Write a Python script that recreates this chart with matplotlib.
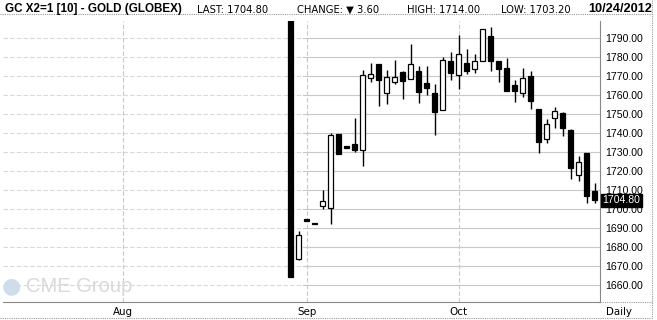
import matplotlib
matplotlib.use("Agg")
import matplotlib.pyplot as plt
from matplotlib.lines import Line2D

# trading-day index, 0 = Aug 1 2012
day_idx = list(range(21, 60))
opens = [1830, 1674, 1695, 1693, 1701.6, 1700.8, 1739.6, 1733.5, 1734.2, 1731,
         1768.9, 1776.3, 1761, 1767.2, 1772.1, 1768.7, 1772.6, 1766.5, 1761.2, 1752.1,
         1777.9, 1770.5, 1776.8, 1773.7, 1777.9, 1791.2, 1777.9, 1774.2, 1765.3, 1761,
         1770.2, 1752.8, 1736.8, 1748.2, 1750.5, 1741.7, 1717.9, 1729.6, 1709.5]
highs = [1830, 1688.6, 1695, 1693, 1710.2, 1740, 1739.6, 1733.5, 1748, 1773.3,
         1777, 1776.3, 1773.3, 1778.6, 1772.8, 1787, 1775.4, 1775.4, 1766, 1780,
         1782.8, 1791.7, 1784.4, 1781.7, 1794.7, 1796.1, 1777.9, 1779.6, 1768.2, 1774.2,
         1772.9, 1752.8, 1747.5, 1753.8, 1751.2, 1742.3, 1728, 1729.6, 1714]
lows = [1664.5, 1673.5, 1694, 1692, 1700.4, 1692.4, 1729.3, 1732.5, 1730.2, 1723,
        1767.2, 1754.5, 1755.6, 1765.8, 1758.2, 1768.7, 1756, 1760.3, 1739.3, 1752.1,
        1768.2, 1763.5, 1771.2, 1771.9, 1777.9, 1772.9, 1767.2, 1762.4, 1756.6, 1759,
        1752.6, 1729.5, 1735, 1742.9, 1738.6, 1716.1, 1715.1, 1703.3, 1703.2]
closes = [1664.5, 1686.3, 1694, 1692, 1704.2, 1738.9, 1729.3, 1732.5, 1731.4, 1770.5,
          1771, 1768.2, 1769.5, 1769.8, 1767.7, 1776.3, 1761.9, 1764, 1751.4, 1778.4,
          1771.6, 1781.7, 1772.9, 1777.9, 1794.7, 1778.2, 1773.7, 1762.4, 1762.4, 1768.9,
          1757.2, 1735.6, 1744.7, 1751.7, 1742.6, 1721.9, 1724.9, 1707.2, 1704.8]

month_pos = [0, 23, 42]
month_labels = ["Aug", "Sep", "Oct"]
price_ticks = list(range(1660, 1800, 10))
last_price = 1704.80

W, H = 657, 320
fig = plt.figure(figsize=(W / 100, H / 100), dpi=100)
fig.patch.set_facecolor("white")

def fx(px):
    return px / W

def fy(py):
    return 1 - py / H

ax = fig.add_axes([fx(3), fy(302), fx(600) - fx(3), fy(21) - fy(302)])
ax.set_xlim(-15, 59.66)
ax.set_ylim(1651.2, 1799.1)

# horizontal grid: dashed before the contract starts, solid after
for p in price_ticks:
    ax.plot([-15, 22.5], [p, p], color="#d3dbd3", lw=0.8, ls=(0, (4, 2)), zorder=0)
    ax.plot([22.5, 59.66], [p, p], color="#c8c8c8", lw=0.8, zorder=0)
for m in month_pos:
    ax.axvline(m, color="#c8c8c8", lw=0.8, ls=(0, (4, 2)), zorder=0)

# candles
ax.vlines(day_idx, lows, highs, color="black", lw=1.0, zorder=2)
bottoms = [min(o, c) for o, c in zip(opens, closes)]
heights = [abs(c - o) for o, c in zip(opens, closes)]
colors = ["white" if c > o else "black" for o, c in zip(opens, closes)]
ax.bar(day_idx, heights, bottom=bottoms, width=0.62, color=colors,
       edgecolor="black", linewidth=0.9, zorder=3)

# axes styling
for s in ["left", "top"]:
    ax.spines[s].set_visible(False)
for s in ["right", "bottom"]:
    ax.spines[s].set_color("#888888")
    ax.spines[s].set_linestyle((0, (1, 1)))
    ax.spines[s].set_linewidth(0.8)

ax.yaxis.tick_right()
ax.set_yticks(price_ticks)
ax.set_yticklabels([f"{p:.2f}" for p in price_ticks], fontsize=7.6,
                   family="Liberation Sans")
ax.tick_params(axis="y", length=0, pad=4)
ax.set_xticks(month_pos)
ax.set_xticklabels(month_labels, fontsize=7.4, family="DejaVu Sans")
ax.tick_params(axis="x", length=0, pad=3.5)

# last price marker
ax.text(1.004, last_price, f"{last_price:.2f}", transform=ax.get_yaxis_transform(),
        ha="left", va="center", color="white", fontsize=7.6, family="Liberation Sans",
        bbox=dict(boxstyle="square,pad=0.15", fc="black", ec="black"), zorder=5,
        clip_on=False)

# watermark
ax.text(-15.1, 1659.3, "\u25CF", color="#cfdcea", fontsize=16, va="center", ha="left", zorder=1)
ax.text(-12.1, 1659.3, "CME Group", color="#d9d9d9", fontsize=14.5, va="center",
        ha="left", family="Liberation Sans", zorder=1)

# header
fig.text(fx(5), fy(9), "GC X2=1 [10] - GOLD (GLOBEX)", fontsize=8.4, fontweight="bold",
         family="Liberation Sans", va="center", ha="left")
hdr = [(197, "LAST: 1704.80"), (297, "CHANGE: \u25BC 3.60"),
       (407, "HIGH: 1714.00"), (501, "LOW: 1703.20")]
for x, t in hdr:
    fig.text(fx(x), fy(10), t, fontsize=7.2, family="DejaVu Sans",
             va="center", ha="left")
fig.text(fx(652), fy(9), "10/24/2012", fontsize=9.2, fontweight="bold",
         family="Liberation Sans", va="center", ha="right")
fig.text(fx(606), fy(312), "Daily", fontsize=7.4, family="DejaVu Sans",
         va="center", ha="left")

# frame lines
grey = "#999999"
fig.add_artist(Line2D([fx(0), fx(652)], [fy(14), fy(14)], color=grey, lw=0.8, ls=(0, (1, 1))))
fig.add_artist(Line2D([fx(0), fx(652)], [fy(318), fy(318)], color=grey, lw=0.8, ls=(0, (1, 1))))
fig.add_artist(Line2D([fx(600), fx(652)], [fy(302), fy(302)], color=grey, lw=0.8, ls=(0, (1, 1))))
fig.add_artist(Line2D([fx(652), fx(652)], [fy(0), fy(318)], color=grey, lw=0.8, ls=(0, (1, 1))))

fig.savefig("out.png", dpi=100, facecolor="white")
